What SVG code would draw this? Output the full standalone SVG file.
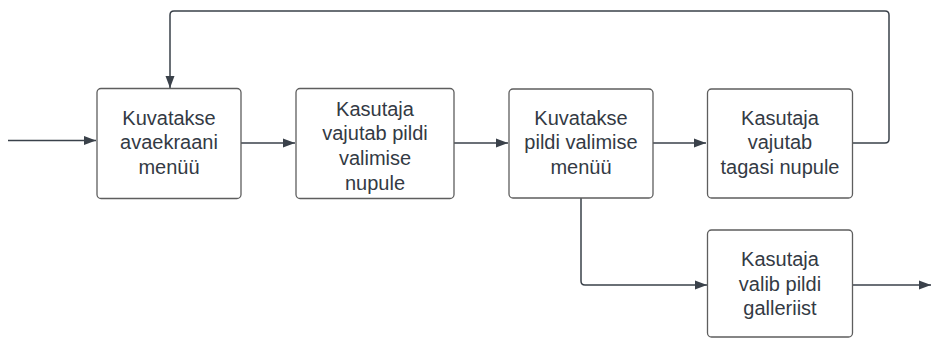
<svg xmlns="http://www.w3.org/2000/svg" width="933" height="338" viewBox="0 0 933 338">
<defs>
<style>
.box{fill:#fff;stroke:#5e5e5e;stroke-width:1.3}
.lbl{font-family:"Liberation Sans",Arial,sans-serif;font-size:20px;fill:#333a44;text-anchor:middle}
.ln{fill:none;stroke:#3a414a;stroke-width:1.5}
</style>
<marker id="ah" viewBox="0 0 12 10" refX="12" refY="5" markerWidth="12" markerHeight="10" markerUnits="userSpaceOnUse" orient="auto">
<path d="M0,0.5 L12,5 L0,9.5 Z" fill="#3a414a"/>
</marker>
</defs>
<rect width="933" height="338" fill="#fff"/>
<g id="connectors">
<path class="ln" d="M8,140.5 H96" marker-end="url(#ah)"/>
<path class="ln" d="M241,143 H295" marker-end="url(#ah)"/>
<path class="ln" d="M454,143 H508" marker-end="url(#ah)"/>
<path class="ln" d="M653,143 H706" marker-end="url(#ah)"/>
<path class="ln" d="M852,143 H885 Q889,143 889,139 V15 Q889,11 885,11 H174 Q170,11 170,15 V88" marker-end="url(#ah)"/>
<path class="ln" d="M581,198 V281 Q581,285 585,285 H707" marker-end="url(#ah)"/>
<path class="ln" d="M852,285 H931" marker-end="url(#ah)"/>
</g>
<g id="n1">
<rect class="box" x="97" y="88.5" width="144" height="110" rx="4"/>
<text class="lbl" x="169" y="124.5">Kuvatakse</text>
<text class="lbl" x="169" y="149">avaekraani</text>
<text class="lbl" x="169" y="173.5">menüü</text>
</g>
<g id="n2">
<rect class="box" x="296" y="88.5" width="158" height="110" rx="4"/>
<text class="lbl" x="375" y="115.5">Kasutaja</text>
<text class="lbl" x="375" y="140">vajutab pildi</text>
<text class="lbl" x="375" y="165">valimise</text>
<text class="lbl" x="375" y="189.5">nupule</text>
</g>
<g id="n3">
<rect class="box" x="509" y="89" width="144" height="109" rx="4"/>
<text class="lbl" x="581" y="124.5">Kuvatakse</text>
<text class="lbl" x="581" y="149">pildi valimise</text>
<text class="lbl" x="581" y="173.5">menüü</text>
</g>
<g id="n4">
<rect class="box" x="707.5" y="89" width="145" height="109" rx="4"/>
<text class="lbl" x="780" y="124.5">Kasutaja</text>
<text class="lbl" x="780" y="149">vajutab</text>
<text class="lbl" x="780" y="173.5">tagasi nupule</text>
</g>
<g id="n5">
<rect class="box" x="707.5" y="230" width="145" height="107" rx="4"/>
<text class="lbl" x="780" y="266">Kasutaja</text>
<text class="lbl" x="780" y="290.5">valib pildi</text>
<text class="lbl" x="780" y="315">galleriist</text>
</g>
</svg>
